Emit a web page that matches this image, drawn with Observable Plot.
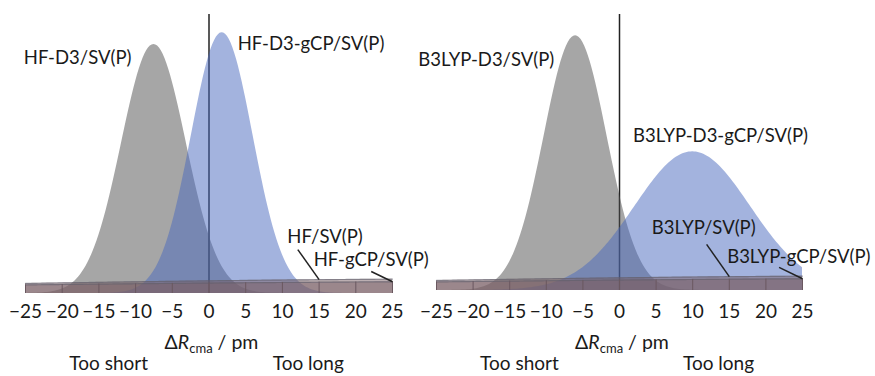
<!DOCTYPE html>
<html><head><meta charset="utf-8">
<script src="https://cdn.jsdelivr.net/npm/d3@7"></script>
<script src="https://cdn.jsdelivr.net/npm/@observablehq/plot@0.6"></script>
<style>
body{margin:0;background:#fff;}
#wrap{position:relative;width:875px;height:376px;overflow:hidden;font-family:Lato,sans-serif;color:#1a1a1a;}
#wrap svg{position:absolute;top:0;overflow:visible;}
</style></head><body><div id="wrap"></div>
<script>
// ---- data (normal distributions: mean and standard deviation, pm) ----
const xTicks = [-25, -20, -15, -10, -5, 0, 5, 10, 15, 20, 25];

const hfMethods = ["HF-D3/SV(P)", "HF-D3-gCP/SV(P)", "HF/SV(P)", "HF-gCP/SV(P)"];
const hfMeans   = [-7.5, 1.8, 40, 50];
const hfSDs     = [4.4, 4.2, 75, 90];

const b3Methods = ["B3LYP-D3/SV(P)", "B3LYP-D3-gCP/SV(P)", "B3LYP/SV(P)", "B3LYP-gCP/SV(P)"];
const b3Means   = [-6.0, 10.0, 40, 50];
const b3SDs     = [4.3, 7.9, 75, 90];

// label anchor points (x in pm, y in density)
const hfLabelX = [-17.9, 13.9, 15.8, 22.1];
const hfLabelY = [0.0856, 0.0910, 0.0204, 0.0120];
const b3LabelX = [-18.2, 13.8, 11.5, 24.5];
const b3LabelY = [0.0838, 0.0564, 0.0229, 0.0120];
// leader lines for the flat distributions: start point, end on the curve at x
const hfLeaderStart = [[12.1, 0.0160], [22.1, 0.0080]];
const b3LeaderStart = [[11.9, 0.0168], [21.8, 0.0084]];
const leaderEndX = [15, 25];

const sideLabels = ["Too short", "Too long"];
const sideLabelX = [-13.6, 13.6];

// ---- helpers ----
const pdf = (x, m, s) => Math.exp(-((x - m) ** 2) / (2 * s * s)) / (s * Math.sqrt(2 * Math.PI));
const xs = d3.range(-25, 25.001, 0.25);
const fills = ["#4d4d4d", "#4767bd", "#7a5f66", "#7a5f66"];

function panel(cfg) {
  const table = [];
  cfg.methods.forEach((m, i) => xs.forEach(x => table.push({method: m, idx: i, x, y: pdf(x, cfg.means[i], cfg.sds[i])})));
  const curves = table.filter(d => d.idx < 2);
  const flats = table.filter(d => d.idx >= 2);
  const labels = cfg.methods.map((m, i) => ({text: m, x: cfg.labelX[i], y: cfg.labelY[i]}));
  const leaders = cfg.leaderStart.map((s, j) => ({
    x1: s[0], y1: s[1], x2: leaderEndX[j], y2: pdf(leaderEndX[j], cfg.means[j + 2], cfg.sds[j + 2])
  }));
  const lowFlat = x => Math.min(pdf(x, cfg.means[2], cfg.sds[2]), pdf(x, cfg.means[3], cfg.sds[3]));

  const plot = Plot.plot({
    width: cfg.width, height: 376,
    marginLeft: cfg.ml, marginRight: cfg.mr, marginTop: 14, marginBottom: cfg.mb,
    x: {domain: [-25, 25]},
    y: {domain: [0, cfg.ymax], axis: null},
    style: {fontFamily: "Lato, sans-serif", color: "#1a1a1a", background: "transparent"},
    marks: [
      Plot.ruleX([0], {stroke: "#222", strokeWidth: 1.5}),
      Plot.areaY(curves, {x: "x", y1: 0, y2: "y", z: "method", fill: d => fills[d.idx], fillOpacity: 0.5}),
      Plot.areaY(flats, {x: "x", y1: 0, y2: "y", z: "method", fill: d => fills[d.idx], fillOpacity: 0.5}),
      Plot.lineY(flats, {x: "x", y: "y", z: "method", stroke: "#5f5f6c", strokeOpacity: 0.6, strokeWidth: 1.2}),
      Plot.ruleX(xTicks, {x: d => d, y1: 0, y2: d => lowFlat(d), stroke: "#6a5860", strokeWidth: 1}),
      Plot.link(leaders, {x1: "x1", y1: "y1", x2: "x2", y2: "y2", stroke: "#222", strokeWidth: 1.5}),
      Plot.text(labels, {x: "x", y: "y", text: "text", fontSize: 18.5, fill: "#1a1a1a"}),
      Plot.axisX(xTicks, {tickSize: 0, tickPadding: cfg.tp, fontSize: 19, fill: "#1a1a1a"})
    ]
  });
  plot.style.left = cfg.left + "px";
  const sx = plot.scale("x");
  const svg = d3.select(plot);
  const t = svg.append("text").attr("x", sx.apply(0) + 3).attr("y", 349)
    .attr("text-anchor", "middle").attr("font-size", 19.5).attr("fill", "#1a1a1a").attr("font-family", "Lato, sans-serif");
  t.append("tspan").text("Δ");
  t.append("tspan").attr("font-style", "italic").text("R");
  t.append("tspan").attr("font-size", 13).attr("dy", 4).text("cma");
  t.append("tspan").attr("dy", -4).text(" / pm");
  sideLabels.forEach((s, i) => {
    svg.append("text").attr("x", sx.apply(sideLabelX[i])).attr("y", 370)
      .attr("text-anchor", "middle").attr("font-size", 19).attr("fill", "#1a1a1a")
      .attr("font-family", "Lato, sans-serif").text(s);
  });
  document.getElementById("wrap").appendChild(plot);
}

panel({methods: hfMethods, means: hfMeans, sds: hfSDs, labelX: hfLabelX, labelY: hfLabelY,
  leaderStart: hfLeaderStart, width: 415, left: 0, ml: 25, mr: 23, mb: 83, ymax: 0.1016, tp: 11});
panel({methods: b3Methods, means: b3Means, sds: b3SDs, labelX: b3LabelX, labelY: b3LabelY,
  leaderStart: b3LeaderStart, width: 460, left: 415, ml: 21, mr: 73, mb: 86, ymax: 0.1005, tp: 14});
</script></body></html>
